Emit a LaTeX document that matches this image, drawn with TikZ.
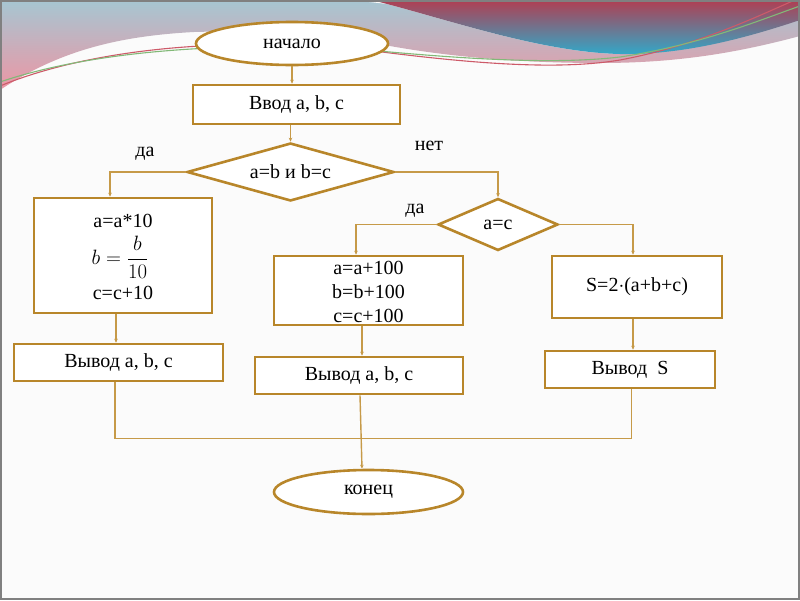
\documentclass[tikz,border=0pt]{standalone}
\usepackage{fontspec}
\setmainfont{Liberation Serif}
\usetikzlibrary{shapes.geometric,arrows.meta,calc}
\definecolor{boxc}{RGB}{184,134,42}
\definecolor{connc}{RGB}{198,154,72}
\definecolor{bandtop}{RGB}{166,198,210}
\definecolor{bandbot}{RGB}{236,150,164}
\definecolor{swred}{RGB}{176,62,82}
\definecolor{swblue}{RGB}{48,170,202}
\definecolor{lred}{RGB}{205,90,105}
\definecolor{lgreen}{RGB}{130,185,120}
\definecolor{pagebg}{RGB}{251,251,251}
\begin{document}
\begin{tikzpicture}[x=1pt,y=-1pt,
  txt/.style={font=\fontsize{20}{24}\selectfont, inner sep=0pt},
  procbox/.style={draw=boxc, line width=2.6pt, fill=white, rectangle, inner sep=0pt, font=\fontsize{20}{24}\selectfont},
  termin/.style={draw=boxc, line width=2.6pt, fill=white, ellipse, inner sep=0pt, font=\fontsize{20}{24}\selectfont},
  decis/.style={draw=boxc, line width=2.6pt, fill=white, diamond, inner sep=0pt, font=\fontsize{20}{24}\selectfont},
  conn/.style={draw=connc, line width=1.4pt, -{Stealth[length=4pt,width=3.5pt]}},
  joinline/.style={draw=connc, line width=1.4pt}]
\useasboundingbox (0,0) rectangle (800,600);
\fill[pagebg] (0,0) rectangle (800,600);
% decoration band
\shade[top color=bandtop, bottom color=bandbot]
  (0,0) -- (800,0) -- (800,36)
  .. controls (740,52) and (680,63) .. (600,63)
  .. controls (510,63) and (440,55) .. (390,46)
  .. controls (330,35) and (260,30) .. (194,32)
  .. controls (120,36) and (60,50) .. (0,90) -- cycle;
\fill[pagebg] (345,0) .. controls (440,6) and (520,33) .. (590,52)
  -- (620,54) .. controls (540,52) and (450,20) .. (372,0) -- cycle;
\shade[top color=swred, bottom color=swblue]
  (372,0) -- (800,0) -- (800,20)
  .. controls (740,40) and (680,55) .. (620,54)
  .. controls (540,52) and (450,20) .. (372,0) -- cycle;
\draw[lred, line width=1.1pt] (0,86) .. controls (100,45) and (250,35) .. (390,53)
  .. controls (480,64) and (560,70) .. (620,60) .. controls (700,45) and (760,15) .. (795,0);
\draw[lgreen, line width=1.1pt] (0,82) .. controls (100,48) and (250,40) .. (390,52)
  .. controls (480,60) and (560,64) .. (620,57) .. controls (700,45) and (760,20) .. (800,6);
\draw[gray, line width=2pt] (1,1) rectangle (799,599);

% nodes
\node[termin, minimum width=192pt, minimum height=43pt] (start) at (292,43.5) {начало};
\node[procbox, minimum width=207pt, minimum height=39pt] (input) at (296.5,104.5) {Ввод a, b, c};
\node[decis, aspect=3.57, minimum width=207pt, minimum height=58pt] (d1) at (290.5,172) {a=b и b=c};
\node[procbox, minimum width=178pt, minimum height=115pt] (lbox) at (123,255.5) {};
\node[txt] (l1) at (123,221) {a=a*10};
\node[txt] (l2) at (120,257) {$\displaystyle b=\frac{b}{10}$};
\node[txt] (l3) at (123,293) {c=c+10};
\node[procbox, minimum width=209pt, minimum height=37pt] (out1) at (118.5,362.5) {Вывод a, b, c};
\node[decis, aspect=2.3, minimum width=120pt, minimum height=52pt] (d2) at (498,224.5) {a=c};
\node[procbox, minimum width=189pt, minimum height=69pt] (mbox) at (368.5,290.5) {};
\node[txt] (m1) at (368.5,267.5) {a=a+100};
\node[txt] (m2) at (368.5,291.5) {b=b+100};
\node[txt] (m3) at (368.5,315.5) {c=c+100};
\node[procbox, minimum width=208pt, minimum height=37pt] (out2) at (359,375.5) {Вывод a, b, c};
\node[procbox, minimum width=170pt, minimum height=62pt] (rbox) at (637,287) {S=2$\cdot$(a+b+c)};
\node[procbox, minimum width=170pt, minimum height=37pt] (out3) at (630,369.5) {Вывод \ S};
\node[termin, minimum width=189pt, minimum height=44pt] (finish) at (368.5,492) {конец};
\node[txt] (yes1) at (145,154) {да};
\node[txt] (no1) at (429,146) {нет};
\node[txt] (yes2) at (415,211) {да};

% connectors
\draw[conn] (start.south) -- (start.south |- input.north);
\draw[conn] (d1.north |- input.south) -- (d1.north);
\draw[conn] (d1.west) -| ([xshift=-13pt]lbox.north);
\draw[conn] ([xshift=-7pt]lbox.south) -- ([xshift=-7pt]lbox.south |- out1.north);
\draw[conn] (d1.east) -| (d2.north);
\draw[conn] (d2.west) -| ([xshift=-12.5pt]mbox.north);
\draw[conn] ([xshift=-6.5pt]mbox.south) -- ([xshift=-6.5pt]mbox.south |- out2.north);
\draw[conn] (d2.east) -| ([xshift=-4pt]rbox.north);
\draw[conn] ([xshift=-4pt]rbox.south) -- ([xshift=-4pt]rbox.south |- out3.north);
\draw[joinline] ([xshift=-3.5pt]out1.south) -- ++(0,56) -| ([xshift=1.5pt]out3.south);
\draw[conn] ([xshift=1pt]out2.south) -- ([xshift=-6.5pt]finish.north);
\end{tikzpicture}
\end{document}
